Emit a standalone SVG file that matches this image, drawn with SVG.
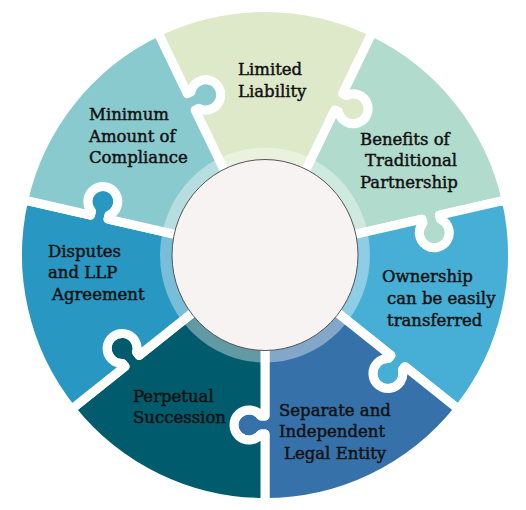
<svg xmlns="http://www.w3.org/2000/svg" width="526" height="510" viewBox="0 0 526 510">
<style>
.seg{stroke:#fff;stroke-width:9;stroke-linejoin:round}
.lbl{font-family:"DejaVu Serif","Liberation Serif",serif;font-size:16.5px;fill:#111;stroke:#111;stroke-width:0.45}
</style>
<defs>
<path id="piece" d="M-34.71,-72.08 L-69.85,-145.06 L-66.25,-146.79 A15,15 0 1 0 -74.06,-163.01 L-77.66,-161.27 L-107.39,-222.99 A247.5,247.5 0 0 1 107.39,-222.99 L77.66,-161.27 L81.26,-159.53 A15,15 0 1 1 73.45,-143.32 L69.85,-145.06 L34.71,-72.08 A80,80 0 0 0 -34.71,-72.08 Z"/>
</defs>
<rect width="526" height="510" fill="#fff"/>
<g id="limited-liability">
<use href="#piece" class="seg" fill="#dde9c8" transform="translate(265 255)"/>
<text class="lbl" x="238" y="75">Limited</text>
<text class="lbl" x="238" y="97">Liability</text>
</g>
<g id="benefits">
<use href="#piece" class="seg" fill="#b0dbcd" transform="translate(265 255) rotate(51.4286)"/>
<text class="lbl" x="360" y="144.5">Benefits of</text>
<text class="lbl" x="365" y="166">Traditional</text>
<text class="lbl" x="360" y="187.5">Partnership</text>
</g>
<g id="ownership">
<use href="#piece" class="seg" fill="#47aed5" transform="translate(265 255) rotate(102.857)"/>
<text class="lbl" x="382" y="282">Ownership</text>
<text class="lbl" x="387" y="304">can be easily</text>
<text class="lbl" x="387" y="325.5">transferred</text>
</g>
<g id="separate-entity">
<use href="#piece" class="seg" fill="#3671a9" transform="translate(265 255) rotate(154.286)"/>
<text class="lbl" x="279" y="416">Separate and</text>
<text class="lbl" x="279" y="437">Independent</text>
<text class="lbl" x="284" y="458.5">Legal Entity</text>
</g>
<g id="perpetual-succession">
<use href="#piece" class="seg" fill="#005b6c" transform="translate(265 255) rotate(205.714)"/>
<text class="lbl" x="133" y="402">Perpetual</text>
<text class="lbl" x="133" y="423">Succession</text>
</g>
<g id="disputes">
<use href="#piece" class="seg" fill="#2897c1" transform="translate(265 255) rotate(257.143)"/>
<text class="lbl" x="48" y="256.5">Disputes</text>
<text class="lbl" x="48" y="278">and LLP</text>
<text class="lbl" x="52" y="300">Agreement</text>
</g>
<g id="minimum-compliance">
<use href="#piece" class="seg" fill="#89cace" transform="translate(265 255) rotate(308.571)"/>
<text class="lbl" x="89" y="120">Minimum</text>
<text class="lbl" x="89" y="141.5">Amount of</text>
<text class="lbl" x="89" y="163">Compliance</text>
</g>
<g id="center">
<ellipse cx="265" cy="255" rx="99" ry="101.5" fill="none" stroke="#fff" stroke-width="12" stroke-opacity="0.38"/>
<ellipse cx="265" cy="255" rx="93" ry="95.5" fill="#f7f3f3" stroke="#555" stroke-width="1"/>
</g>
<g id="connectors"/>
</svg>
